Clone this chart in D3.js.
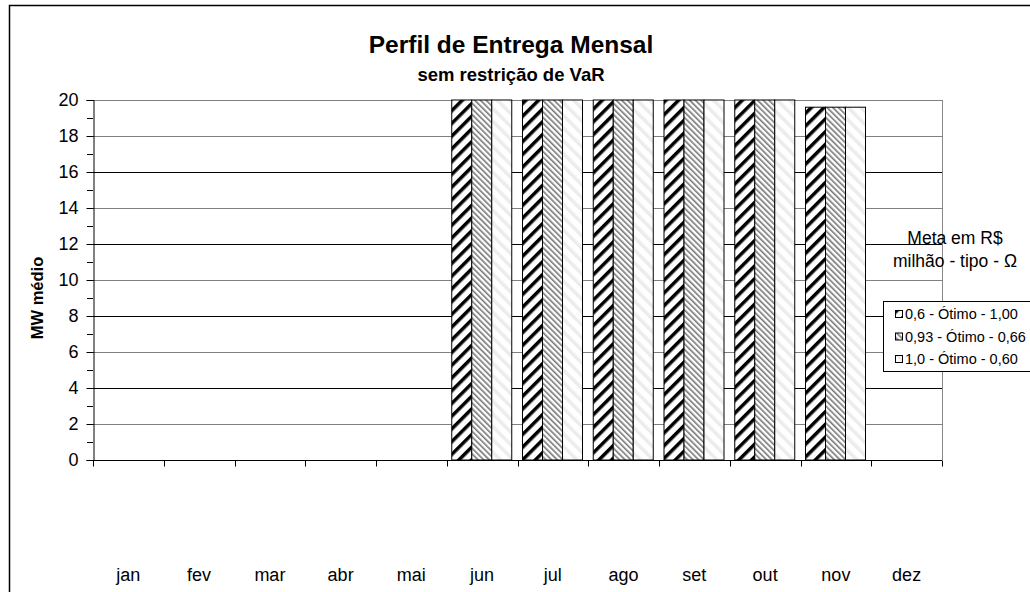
<!DOCTYPE html>
<html>
<head>
<meta charset="utf-8">
<script src="https://cdn.jsdelivr.net/npm/d3@7"></script>
<style>
  body { margin: 0; background: #fff; }
  svg { display: block; font-family: "Liberation Sans", Arial, sans-serif; }
</style>
</head>
<body>
<div id="vis"></div>
<script>
var months = ["jan", "fev", "mar", "abr", "mai", "jun", "jul", "ago", "set", "out", "nov", "dez"];
var seriesNames = ["0,6 - Ótimo - 1,00", "0,93 - Ótimo - 0,66", "1,0 - Ótimo - 0,60"];
var s1 = [0, 0, 0, 0, 0, 20, 20, 20, 20, 20, 19.6, 0];
var s2 = [0, 0, 0, 0, 0, 20, 20, 20, 20, 20, 19.6, 0];
var s3 = [0, 0, 0, 0, 0, 20, 20, 20, 20, 20, 19.6, 0];
var yTicks = [0, 2, 4, 6, 8, 10, 12, 14, 16, 18, 20];

var w = 1030, h = 592;
var pLeft = 93, pRight = 942, pTop = 100, pBottom = 460;

var svg = d3.select("#vis").append("svg")
  .attr("width", w)
  .attr("height", h);

// hatch patterns for the bars
var defs = svg.append("defs");
function addPattern(id, size, lineW, color, angle) {
  var p = defs.append("pattern")
    .attr("id", id)
    .attr("patternUnits", "userSpaceOnUse")
    .attr("width", size)
    .attr("height", size)
    .attr("patternTransform", "rotate(" + angle + ")");
  p.append("rect").attr("width", size).attr("height", size).attr("fill", "#fff");
  p.append("rect").attr("width", lineW).attr("height", size).attr("fill", color);
}
addPattern("pat0", 9, 3.5, "#000", 45);
addPattern("pat1", 4, 1.6, "#777", -45);
addPattern("pat2", 9, 3.5, "#ececec", -45);
var fills = ["url(#pat0)", "url(#pat1)", "url(#pat2)"];

// outer frame (cut off at right and bottom)
svg.append("rect")
  .attr("x", 9.5).attr("y", 5.5)
  .attr("width", w + 20).attr("height", h + 20)
  .attr("fill", "none").attr("stroke", "#000").attr("stroke-width", 1.5);

var x = d3.scaleBand().domain(months).range([pLeft, pRight]);
var y = d3.scaleLinear().domain([0, 20]).range([pBottom, pTop]);
var x1 = d3.scaleBand().domain([0, 1, 2]).range([5, 65]);

// gridlines
svg.append("g").selectAll("line")
  .data(yTicks.filter(function(d) { return d > 0; }))
  .enter().append("line")
  .attr("x1", pLeft).attr("x2", pRight)
  .attr("y1", function(d) { return Math.round(y(d)) + 0.5; })
  .attr("y2", function(d) { return Math.round(y(d)) + 0.5; })
  .attr("stroke", function(d) { return (d % 4 == 0 && d < 20) ? "#000" : "#808080"; });

// right border of plot area
svg.append("line")
  .attr("x1", pRight + 0.5).attr("x2", pRight + 0.5)
  .attr("y1", pTop).attr("y2", pBottom)
  .attr("stroke", "#888");

// bars
var series = [s1, s2, s3];
var barData = [];
series.forEach(function(vals, si) {
  vals.forEach(function(v, i) {
    if (v > 0) barData.push({ s: si, m: months[i], v: v });
  });
});
svg.append("g").selectAll("rect")
  .data(barData)
  .enter().append("rect")
  .attr("x", function(d) { return x(d.m) + x1(d.s); })
  .attr("y", function(d) { return y(d.v); })
  .attr("width", x1.bandwidth())
  .attr("height", function(d) { return y(0) - y(d.v); })
  .attr("fill", function(d) { return fills[d.s]; })
  .attr("stroke", "#000");

// y axis
var yAxis = d3.axisLeft(y).tickValues(yTicks).tickSize(7).tickPadding(8);
var gy = svg.append("g").attr("transform", "translate(" + (pLeft + 0.5) + ",0)").call(yAxis);
gy.selectAll("text").style("font-size", "18px").style("font-family", "Liberation Sans, Arial, sans-serif").attr("fill", "#000");
gy.select(".domain").attr("stroke", "#000");
gy.selectAll(".tick line").attr("stroke", "#000");
// minor ticks
svg.append("g").selectAll("line")
  .data(d3.range(1, 20, 2))
  .enter().append("line")
  .attr("x1", pLeft - 6).attr("x2", pLeft)
  .attr("y1", function(d) { return Math.round(y(d)) + 0.5; })
  .attr("y2", function(d) { return Math.round(y(d)) + 0.5; })
  .attr("stroke", "#000");

// x axis
var gx = svg.append("g").attr("transform", "translate(0," + (pBottom + 0.5) + ")");
gx.append("line").attr("x1", pLeft).attr("x2", pRight).attr("stroke", "#000");
gx.selectAll(".tk")
  .data(d3.range(months.length + 1))
  .enter().append("line")
  .attr("class", "tk")
  .attr("x1", function(i) { return Math.round(pLeft + i * x.step()) + 0.5; })
  .attr("x2", function(i) { return Math.round(pLeft + i * x.step()) + 0.5; })
  .attr("y1", 0).attr("y2", 6)
  .attr("stroke", "#000");
gx.selectAll(".lbl")
  .data(months)
  .enter().append("text")
  .attr("class", "lbl")
  .attr("x", function(d) { return x(d) + x.bandwidth() / 2; })
  .attr("y", 120)
  .attr("text-anchor", "middle")
  .style("font-size", "18px")
  .text(function(d) { return d; });

// titles
svg.append("text")
  .attr("x", 511).attr("y", 53)
  .attr("text-anchor", "middle")
  .style("font-size", "24.5px").style("font-weight", "bold")
  .text("Perfil de Entrega Mensal");
svg.append("text")
  .attr("x", 511).attr("y", 81)
  .attr("text-anchor", "middle")
  .style("font-size", "18.5px").style("font-weight", "bold")
  .text("sem restrição de VaR");

// y label
svg.append("text")
  .attr("transform", "translate(43,298) rotate(-90)")
  .attr("text-anchor", "middle")
  .style("font-size", "16.5px").style("font-weight", "bold")
  .text("MW médio");

// legend title
svg.append("text")
  .attr("x", 955).attr("y", 244)
  .attr("text-anchor", "middle")
  .style("font-size", "17.5px")
  .text("Meta em R$");
svg.append("text")
  .attr("x", 955).attr("y", 267)
  .attr("text-anchor", "middle")
  .style("font-size", "17.5px")
  .text("milhão - tipo - Ω");

// legend box
var lg = svg.append("g").attr("transform", "translate(883,301)");
lg.append("rect")
  .attr("x", 0.5).attr("y", 0.5)
  .attr("width", 160).attr("height", 70)
  .attr("fill", "#fff").attr("stroke", "#000");
var items = lg.selectAll(".it")
  .data(seriesNames)
  .enter().append("g")
  .attr("class", "it")
  .attr("transform", function(d, i) { return "translate(12," + (9 + i * 22.5) + ")"; });
items.append("rect")
  .attr("x", 0.5).attr("y", 0.5)
  .attr("width", 7).attr("height", 7)
  .attr("fill", function(d, i) { return fills[i]; })
  .attr("stroke", "#000");
items.append("text")
  .attr("x", 10).attr("y", 9)
  .style("font-size", "14.5px")
  .text(function(d) { return d; });
</script>
</body>
</html>
